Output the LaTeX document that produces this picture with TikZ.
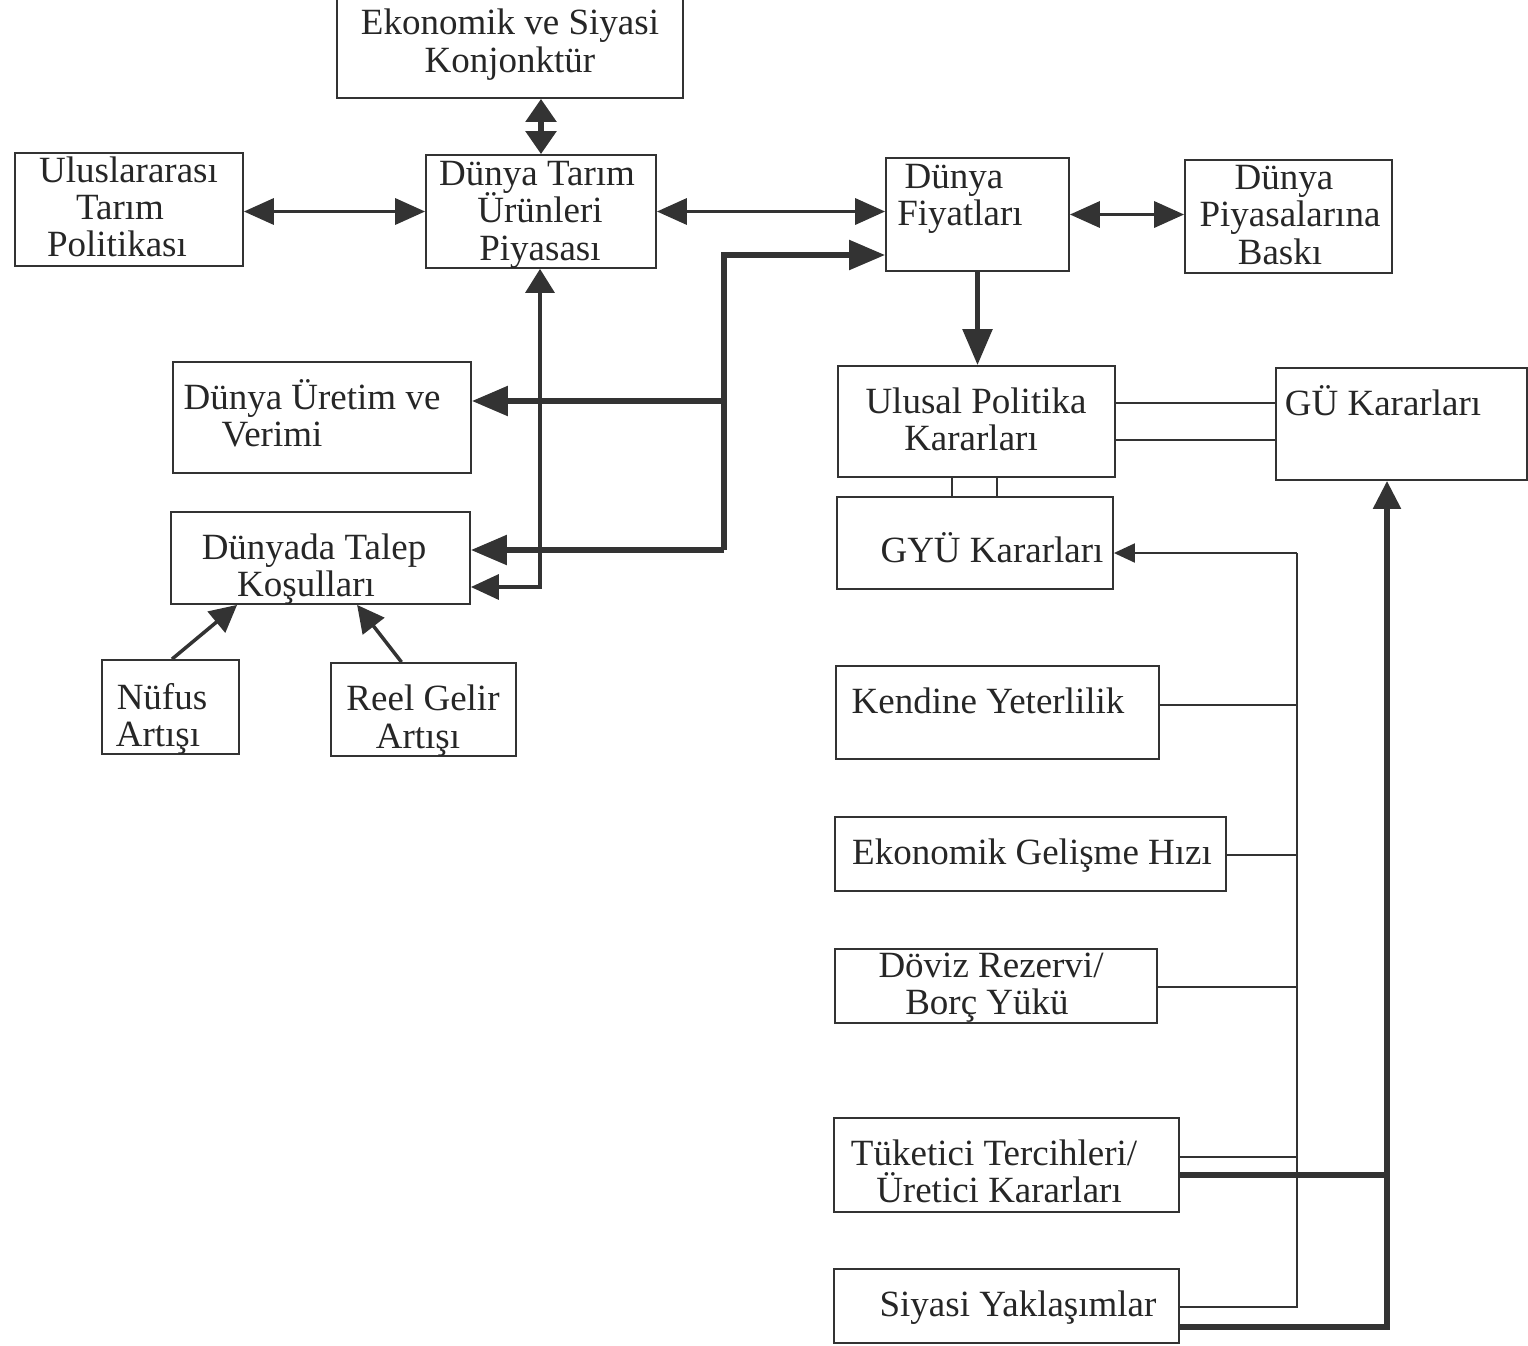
\documentclass[tikz,border=0pt]{standalone}
\usepackage{fontspec}
\setmainfont{Liberation Serif}
\usetikzlibrary{arrows.meta}
\definecolor{ink}{HTML}{333333}
\definecolor{txtc}{HTML}{262626}
\tikzset{
  box/.style={draw=ink, line width=1.8pt, rectangle, inner sep=0pt},
  txt/.style={inner sep=0pt, anchor=base, text=txtc, font=\fontsize{37}{38}\selectfont},
  thin/.style={draw=ink, line width=2pt},
  medium/.style={draw=ink, line width=3.5pt},
  heavy/.style={draw=ink, line width=5.5pt},
  bigtip/.style={-{Triangle[length=36pt,width=29pt]}},
  midtip/.style={-{Triangle[length=27pt,width=27pt]}},
  smalltip/.style={-{Triangle[length=21pt,width=19pt]}},
}
\begin{document}
\begin{tikzpicture}[x=1pt,y=-1pt]
\useasboundingbox (0,0) rectangle (1528,1345);
% boxes
\node[box, minimum width=346pt, minimum height=103pt] (ekon) at (510,46.5) {};
\node[box, minimum width=228pt, minimum height=113pt] (ulus) at (129,209.5) {};
\node[box, minimum width=230pt, minimum height=113pt] (dtu) at (541,211.5) {};
\node[box, minimum width=183pt, minimum height=113pt] (fiy) at (977.5,214.5) {};
\node[box, minimum width=207pt, minimum height=113pt] (bask) at (1288.5,216.5) {};
\node[box, minimum width=298pt, minimum height=111pt] (uret) at (322,417.5) {};
\node[box, minimum width=299pt, minimum height=92pt] (talep) at (320.5,558) {};
\node[box, minimum width=137pt, minimum height=94pt] (nuf) at (170.5,707) {};
\node[box, minimum width=185pt, minimum height=93pt] (reel) at (423.5,709.5) {};
\node[box, minimum width=277pt, minimum height=111pt] (ulusal) at (976.5,421.5) {};
\node[box, minimum width=251pt, minimum height=112pt] (gu) at (1401.5,424) {};
\node[box, minimum width=276pt, minimum height=92pt] (gyu) at (975,543) {};
\node[box, minimum width=323pt, minimum height=93pt] (kendi) at (997.5,712.5) {};
\node[box, minimum width=391pt, minimum height=74pt] (ekg) at (1030.5,854) {};
\node[box, minimum width=322pt, minimum height=74pt] (doviz) at (996,986) {};
\node[box, minimum width=345pt, minimum height=94pt] (tuk) at (1006.5,1165) {};
\node[box, minimum width=345pt, minimum height=74pt] (siy) at (1006.5,1306) {};
% texts
\node[txt] (ekon1) at (510,34) {Ekonomik ve Siyasi};
\node[txt] (ekon2) at (510,72) {Konjonktür};
\node[txt] (ulus1) at (128.5,182) {Uluslararası};
\node[txt] (ulus2) at (120,219) {Tarım};
\node[txt] (ulus3) at (117,256) {Politikası};
\node[txt] (dtu1) at (537,185) {Dünya Tarım};
\node[txt] (dtu2) at (540,222) {Ürünleri};
\node[txt] (dtu3) at (540,260) {Piyasası};
\node[txt] (fiy1) at (954,188) {Dünya};
\node[txt] (fiy2) at (960,225) {Fiyatları};
\node[txt] (bask1) at (1284,189) {Dünya};
\node[txt] (bask2) at (1290,226) {Piyasalarına};
\node[txt] (bask3) at (1280,264) {Baskı};
\node[txt] (uret1) at (312,409) {Dünya Üretim ve};
\node[txt] (uret2) at (272,446) {Verimi};
\node[txt] (talep1) at (314,559) {Dünyada Talep};
\node[txt] (talep2) at (306,596) {Koşulları};
\node[txt] (nuf1) at (162,709) {Nüfus};
\node[txt] (nuf2) at (158,746) {Artışı};
\node[txt] (reel1) at (423,710) {Reel Gelir};
\node[txt] (reel2) at (418,748) {Artışı};
\node[txt] (ulusal1) at (976,413) {Ulusal Politika};
\node[txt] (ulusal2) at (971,450) {Kararları};
\node[txt] (gu1) at (1383,415) {GÜ Kararları};
\node[txt] (gyu1) at (992,562) {GYÜ Kararları};
\node[txt] (kendi1) at (988,713) {Kendine Yeterlilik};
\node[txt] (ekg1) at (1032,864) {Ekonomik Gelişme Hızı};
\node[txt] (doviz1) at (991,977) {Döviz Rezervi/};
\node[txt] (doviz2) at (987,1014) {Borç Yükü};
\node[txt] (tuk1) at (994,1165) {Tüketici Tercihleri/};
\node[txt] (tuk2) at (999,1202) {Üretici Kararları};
\node[txt] (siy1) at (1018,1316) {Siyasi Yaklaşımlar};
% junction coordinates
\coordinate (j1) at (724,255);
\coordinate (j2) at (724,401);
\coordinate (j3) at (724,550);
\coordinate (j4) at (540,587);
\coordinate (u1) at ([yshift=-38pt]ulusal.north east);
\coordinate (u2) at ([yshift=-75pt]ulusal.north east);
\coordinate (v1) at ([xshift=115pt]ulusal.south west);
\coordinate (v2) at ([xshift=160pt]ulusal.south west);
\coordinate (r0) at (1297,553);
\coordinate (rb1) at (1297,705);
\coordinate (rb2) at (1297,855);
\coordinate (rb3) at (1297,987);
\coordinate (rb4) at (1297,1157);
\coordinate (rb5) at (1297,1307);
\coordinate (tb1) at (1387,1175);
\coordinate (tb2) at (1387,1327);
\coordinate (n0) at ([xshift=1.5pt]nuf.north);
\coordinate (n1) at ([xshift=67pt]talep.south west);
\coordinate (g0) at ([xshift=-22pt]reel.north);
\coordinate (g1) at ([xshift=187pt]talep.south west);
% connectors
\draw[heavy, {Triangle[length=23pt,width=30pt]}-{Triangle[length=23pt,width=30pt]}] (dtu.north |- ekon.south) -- (dtu.north);
\draw[medium, {Triangle[length=30pt,width=26pt]}-{Triangle[length=30pt,width=26pt]}] (ulus.east |- dtu.west) -- (dtu.west);
\draw[medium, {Triangle[length=30pt,width=26pt]}-{Triangle[length=30pt,width=26pt]}] (dtu.east) -- (dtu.east -| fiy.west);
\draw[medium, {Triangle[length=30pt,width=26pt]}-{Triangle[length=30pt,width=26pt]}] (fiy.east) -- (fiy.east -| bask.west);
\draw[heavy, bigtip] (fiy.south) -- (fiy.south |- ulusal.north);
\draw[heavy, bigtip, line join=miter] (j3) -- (j1) -- (j1 -| fiy.west);
\draw[heavy, bigtip] (j2) -- (j2 -| uret.east);
\draw[heavy, bigtip] (j3) -- (j3 -| talep.east);
\draw[medium, {Triangle[length=28pt,width=25pt]}-{Triangle[length=24pt,width=29pt]}, line join=miter] (j4 -| talep.east) -- (j4) -- (j4 |- dtu.south);
\draw[medium, midtip] (n0) -- (n1);
\draw[medium, midtip] (g0) -- (g1);
\draw[thin] (u1) -- (u1 -| gu.west);
\draw[thin] (u2) -- (u2 -| gu.west);
\draw[thin] (v1) -- (v1 |- gyu.north);
\draw[thin] (v2) -- (v2 |- gyu.north);
\draw[thin, smalltip] (r0) -- (r0 -| gyu.east);
\draw[thin, line join=miter] (r0) -- (rb5) -- (rb5 -| siy.east);
\draw[thin] (rb1 -| kendi.east) -- (rb1);
\draw[thin] (rb2 -| ekg.east) -- (rb2);
\draw[thin] (rb3 -| doviz.east) -- (rb3);
\draw[thin] (rb4 -| tuk.east) -- (rb4);
\draw[heavy, {Triangle[length=28pt,width=27pt]}-, line join=miter] (tb2 |- gu.south) -- (tb2) -- (tb2 -| siy.east);
\draw[heavy] (tb1 -| tuk.east) -- (tb1);
\end{tikzpicture}
\end{document}
